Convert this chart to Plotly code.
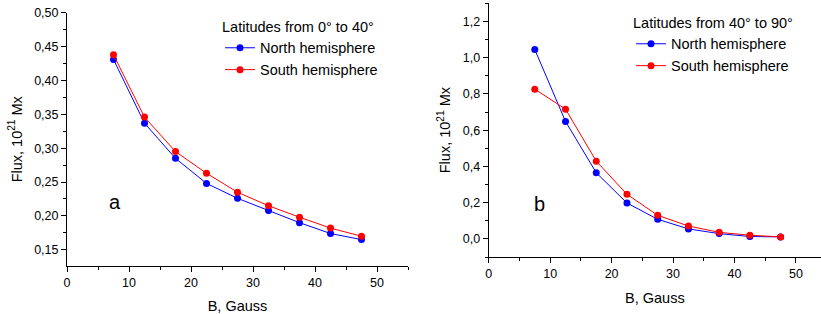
import plotly.graph_objects as go

B = [7.5, 12.5, 17.5, 22.5, 27.5, 32.5, 37.5, 42.5, 47.5]
north_a = [0.431, 0.337, 0.285, 0.248, 0.226, 0.208, 0.190, 0.174, 0.165]
south_a = [0.438, 0.346, 0.295, 0.263, 0.235, 0.215, 0.198, 0.182, 0.170]
north_b = [1.045, 0.648, 0.365, 0.198, 0.108, 0.055, 0.029, 0.013, 0.011]
south_b = [0.826, 0.716, 0.429, 0.246, 0.130, 0.071, 0.036, 0.020, 0.011]
yticks_a = [0.15, 0.20, 0.25, 0.30, 0.35, 0.40, 0.45, 0.50]
yticks_b = [0.0, 0.2, 0.4, 0.6, 0.8, 1.0, 1.2]
xticks = [0, 10, 20, 30, 40, 50]

BLUE = "#0000FF"
RED = "#FF0000"
FONT = "Liberation Sans, Arial, sans-serif"

fig = go.Figure()
for x_ax, y_ax, leg, n, s in [("x", "y", "legend", north_a, south_a),
                              ("x2", "y2", "legend2", north_b, south_b)]:
    fig.add_trace(go.Scatter(x=B, y=n, mode="lines+markers", name="North hemisphere",
                             line=dict(color=BLUE, width=1), marker=dict(color=BLUE, size=7),
                             xaxis=x_ax, yaxis=y_ax, legend=leg))
    fig.add_trace(go.Scatter(x=B, y=s, mode="lines+markers", name="South hemisphere",
                             line=dict(color=RED, width=1), marker=dict(color=RED, size=7),
                             xaxis=x_ax, yaxis=y_ax, legend=leg))

axis_common = dict(showline=True, linecolor="black", linewidth=1, ticks="outside",
                   ticklen=5, tickwidth=1, tickcolor="black", showgrid=False, zeroline=False,
                   automargin=False,
                   tickfont=dict(size=12.5, color="black", family=FONT),
                   title_font=dict(size=14.5, color="black", family=FONT))

fig.update_layout(
    width=821, height=314, margin=dict(l=0, r=0, t=0, b=0, autoexpand=False),
    paper_bgcolor="white", plot_bgcolor="white",
    separators=",.",
    font=dict(family=FONT, color="black"),
    xaxis=dict(domain=[67/821, 408/821], range=[0, 55], tickvals=xticks, anchor="y",
               minor=dict(ticks="outside", ticklen=3, dtick=5, tickcolor="black"),
               title=dict(text="B, Gauss", standoff=12), **axis_common),
    yaxis=dict(domain=[48/314, 301.5/314], range=[0.126, 0.5005], tickvals=yticks_a,
               tickformat=".2f", anchor="x",
               minor=dict(ticks="outside", ticklen=3, dtick=0.025, tick0=0.125, tickcolor="black"),
               title=dict(text="Flux, 10<sup>21</sup> Mx", standoff=8), **axis_common),
    xaxis2=dict(domain=[488.7/821, 1.0], range=[0, 54.07], tickvals=xticks, anchor="y2",
                minor=dict(ticks="outside", ticklen=3, dtick=5, tickcolor="black"),
                title=dict(text="B, Gauss", standoff=12), **axis_common),
    yaxis2=dict(domain=[57/314, 310.7/314], range=[-0.1, 1.3], tickvals=yticks_b,
                tickformat=".1f", anchor="x2",
                minor=dict(ticks="outside", ticklen=3, dtick=0.1, tick0=0, tickcolor="black"),
                title=dict(text="Flux, 10<sup>21</sup> Mx", standoff=8), **axis_common),
    legend=dict(x=220/821, y=1-13/314, xanchor="left", yanchor="top",
                bgcolor="rgba(0,0,0,0)", font=dict(size=14.5, family=FONT),
                title=dict(text="Latitudes from 0° to 40°", font=dict(size=14.5, family=FONT)),
                tracegroupgap=0),
    legend2=dict(x=631/821, y=1-9/314, xanchor="left", yanchor="top",
                 bgcolor="rgba(0,0,0,0)", font=dict(size=14.5, family=FONT),
                 title=dict(text="Latitudes from 40° to 90°", font=dict(size=14.5, family=FONT)),
                 tracegroupgap=0),
    annotations=[
        dict(text="a", x=7.7, y=0.22, xref="x", yref="y", showarrow=False,
             font=dict(size=20, family=FONT, color="black")),
        dict(text="b", x=8.3, y=0.195, xref="x2", yref="y2", showarrow=False,
             font=dict(size=20, family=FONT, color="black")),
    ],
)

fig.write_html("out.html", config={"displayModeBar": False},
               post_script="document.body.style.margin='0';document.body.style.overflow='hidden';")
